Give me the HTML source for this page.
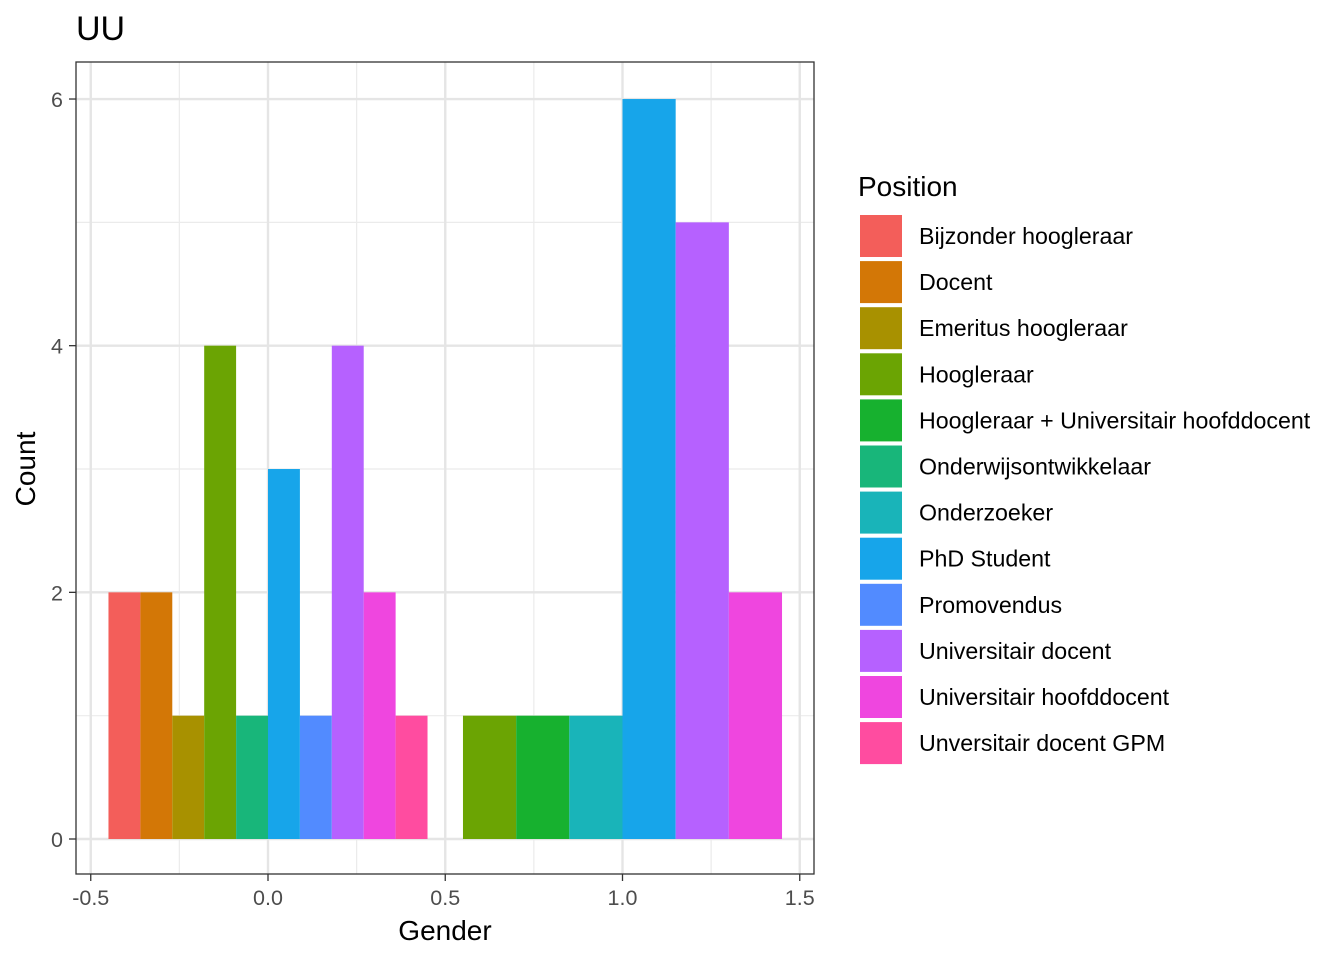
<!DOCTYPE html>
<html><head><meta charset="utf-8"><style>
html,body{margin:0;padding:0;background:#fff;}
svg text{font-family:"Liberation Sans",Arial,sans-serif;}
</style></head><body>
<svg id="chart" width="1344" height="960" xmlns="http://www.w3.org/2000/svg">
<text x="76" y="40" font-size="34" fill="#000">UU</text>
<g id="grid"></g><g id="bars"></g>
<rect x="76" y="62" width="738" height="812" fill="none" stroke="#333" stroke-width="1.3"/>
<g id="axes"></g>
<text x="445" y="940" font-size="28" text-anchor="middle" fill="#000">Gender</text>
<text transform="translate(35,469) rotate(-90)" font-size="28" text-anchor="middle" fill="#000">Count</text>
<text x="858" y="196" font-size="28" fill="#000">Position</text>
<g id="legend"></g>
</svg>
<script>
const positions=["Bijzonder hoogleraar","Docent","Emeritus hoogleraar","Hoogleraar","Hoogleraar + Universitair hoofddocent","Onderwijsontwikkelaar","Onderzoeker","PhD Student","Promovendus","Universitair docent","Universitair hoofddocent","Unversitair docent GPM"];
const colors=["#F35E5A","#D37706","#A89100","#6BA403","#17B12F","#18B67A","#19B4B9","#17A5EA","#528BFF","#B661FF","#EF46DF","#FF4CA0"];
const group0Positions=[0,1,2,3,5,7,8,9,10,11];
const group0Counts=[2,2,1,4,1,3,1,4,2,1];
const group1Positions=[3,4,6,7,9,10];
const group1Counts=[1,1,1,6,5,2];
const xTicks=[-0.5,0,0.5,1,1.5];
const xTickLabels=["-0.5","0.0","0.5","1.0","1.5"];
const yTicks=[0,2,4,6];
const NS="http://www.w3.org/2000/svg";
const X=v=>268+v*354.5;
const Y=v=>839-v*123.33;
function mk(tag,attrs,parent){const e=document.createElementNS(NS,tag);for(const k in attrs)e.setAttribute(k,attrs[k]);document.getElementById(parent).appendChild(e);return e;}
[-0.25,0.25,0.75,1.25].forEach(v=>{const l=mk('line',{x1:X(v),x2:X(v),y1:62,y2:874,stroke:'#ebebeb','stroke-width':1.2},'grid');});
[1,3,5].forEach(v=>{const l=mk('line',{x1:76,x2:814,y1:Y(v),y2:Y(v),stroke:'#ebebeb','stroke-width':1.2},'grid');});
xTicks.forEach((v,i)=>{const l=mk('line',{x1:X(v),x2:X(v),y1:62,y2:874,stroke:'#e5e5e5','stroke-width':2.4},'grid');
const t=mk('line',{x1:X(v),x2:X(v),y1:874,y2:881,stroke:'#333','stroke-width':1.3},'axes');
const tx=mk('text',{x:X(v),y:905,'font-size':21.5,'text-anchor':'middle',fill:'#4d4d4d'},'axes');tx.textContent=xTickLabels[i];});
yTicks.forEach(v=>{const l=mk('line',{x1:76,x2:814,y1:Y(v),y2:Y(v),stroke:'#e5e5e5','stroke-width':2.4},'grid');
const t=mk('line',{x1:69,x2:76,y1:Y(v),y2:Y(v),stroke:'#333','stroke-width':1.3},'axes');
const tx=mk('text',{x:63,y:Y(v)+8,'font-size':21.5,'text-anchor':'end',fill:'#4d4d4d'},'axes');tx.textContent=String(v);});
function drawGroup(center,pos,counts){const w=0.9/pos.length;pos.forEach((p,i)=>{const x0=center-0.45+i*w;
const r=mk('rect',{x:X(x0),y:Y(counts[i]),width:X(x0+w)-X(x0),height:Y(0)-Y(counts[i]),fill:colors[p]},'bars');
});}
drawGroup(0,group0Positions,group0Counts);
drawGroup(1,group1Positions,group1Counts);
positions.forEach((p,i)=>{const y=215+i*46.1;
const r=mk('rect',{x:860,y:y,width:42,height:42,fill:colors[i]},'legend');
const t=mk('text',{x:919,y:y+29,'font-size':23.2,fill:'#000'},'legend');t.textContent=p;});
</script>
</body></html>
